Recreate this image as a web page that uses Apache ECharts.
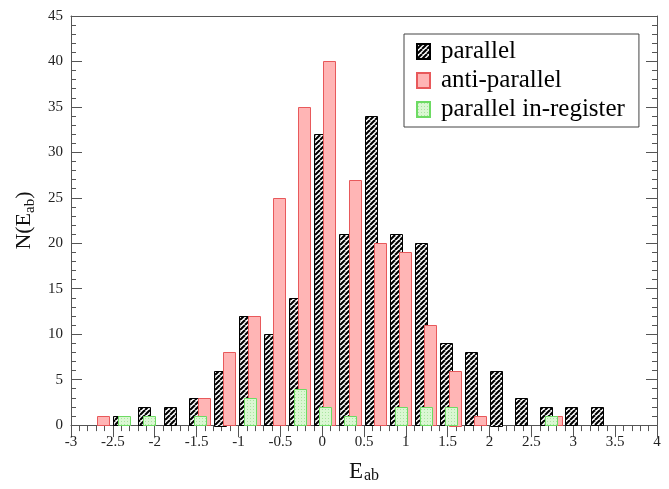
<!DOCTYPE html>
<html>
<head>
<meta charset="utf-8">
<script src="https://cdn.jsdelivr.net/npm/echarts@6/dist/echarts.min.js"></script>
<style>
  html, body { margin: 0; padding: 0; background: #fff; }
  #chart { width: 669px; height: 489px; }
</style>
</head>
<body>
<div id="chart"></div>
<script>
// bin centres (E_ab) and counts per strand arrangement
const bins = [-2.7, -2.4, -2.1, -1.8, -1.5, -1.2, -0.9, -0.6, -0.3, 0, 0.3, 0.6, 0.9, 1.2, 1.5, 1.8, 2.1, 2.4, 2.7, 3.0, 3.3];
const parallel = [0, 1, 2, 2, 3, 6, 12, 10, 14, 32, 21, 34, 21, 20, 9, 8, 6, 3, 2, 2, 2];
const antiParallel = [1, 0, 0, 0, 3, 8, 12, 25, 35, 40, 27, 20, 19, 11, 6, 1, 0, 0, 1, 0, 0];
const inRegister = [0, 1, 1, 0, 1, 0, 3, 0, 4, 2, 1, 0, 2, 2, 2, 0, 0, 0, 1, 0, 0];
const seriesNames = ['parallel', 'anti-parallel', 'parallel in-register'];

const serif = '"Liberation Serif", "DejaVu Serif", serif';
const axisColor = '#555';
const barWidth = 0.148;

function makePattern(size, draw) {
  const c = document.createElement('canvas');
  c.width = c.height = size;
  draw(c.getContext('2d'), size);
  return { image: c, repeat: 'repeat' };
}

const hatch = makePattern(5, (g, s) => {
  g.fillStyle = '#fff';
  g.fillRect(0, 0, s, s);
  g.strokeStyle = '#000';
  g.lineWidth = 2.1;
  for (const o of [-s, 0, s]) {
    g.beginPath();
    g.moveTo(o, s);
    g.lineTo(o + s, 0);
    g.stroke();
  }
});

const pinkFill = '#ffb5b5';

const dots = makePattern(3, (g, s) => {
  g.fillStyle = '#dbf7d3';
  g.fillRect(0, 0, s, s);
  g.fillStyle = '#a9e6a0';
  g.fillRect(1, 1, 1, 1);
});

function barRender(shift, stroke) {
  return (params, api) => {
    const v = api.value(1);
    if (!v) return null;
    const x = api.value(0) + shift;
    const tl = api.coord([x - barWidth / 2, v]);
    const br = api.coord([x + barWidth / 2, 0]);
    return {
      type: 'rect',
      shape: { x: Math.round(tl[0]) + 0.5, y: Math.round(tl[1]) + 0.5, width: Math.round(br[0] - tl[0]), height: Math.round(br[1] - tl[1]) },
      style: Object.assign(api.style(), { stroke: stroke, lineWidth: 1 })
    };
  };
}

function pairs(values) {
  return bins.map((b, i) => [b, values[i]]);
}

const chart = echarts.init(document.getElementById('chart'), null, { renderer: 'canvas' });

const tickLabel = { fontFamily: serif, fontSize: 15, color: '#222' };

chart.setOption({
  animation: false,
  backgroundColor: '#fff',
  grid: { left: 71, right: 12, top: 16, bottom: 61 },
  legend: {
    orient: 'vertical',
    left: 404,
    top: 34,
    padding: [5, 14, 5, 12],
    itemGap: 4,
    itemWidth: 13,
    itemHeight: 15,
    icon: 'rect',
    borderColor: '#444',
    borderWidth: 1,
    textStyle: { fontFamily: serif, fontSize: 25, color: '#000', padding: [0, 0, 0, 6] },
    data: seriesNames
  },
  xAxis: [
    {
      type: 'value',
      min: -3,
      max: 4,
      interval: 0.5,
      axisLine: { show: true, onZero: false, lineStyle: { color: axisColor } },
      axisTick: { show: true, inside: false, length: 12, lineStyle: { color: axisColor } },
      minorTick: { show: true, splitNumber: 5, length: 6, lineStyle: { color: axisColor } },
      splitLine: { show: false },
      axisLabel: Object.assign({ margin: 9 }, tickLabel),
      name: '{n|E}{s|ab}',
      nameLocation: 'middle',
      nameGap: 30,
      nameTextStyle: {
        rich: {
          n: { fontFamily: serif, fontSize: 23, color: '#111', lineHeight: 24, verticalAlign: 'top' },
          s: { fontFamily: serif, fontSize: 16, color: '#111', lineHeight: 16, padding: [14, 0, 0, 1], verticalAlign: 'bottom' }
        }
      }
    },
    {
      type: 'value',
      position: 'top',
      min: -3,
      max: 4,
      axisLine: { show: true, onZero: false, lineStyle: { color: axisColor } },
      axisTick: { show: false },
      axisLabel: { show: false },
      splitLine: { show: false }
    }
  ],
  yAxis: [
    {
      type: 'value',
      min: 0,
      max: 45,
      interval: 5,
      axisLine: { show: true, onZero: false, lineStyle: { color: axisColor } },
      axisTick: { show: true, inside: true, length: 11, lineStyle: { color: axisColor } },
      minorTick: { show: true, splitNumber: 5, length: 5, lineStyle: { color: axisColor } },
      splitLine: { show: false },
      axisLabel: Object.assign({ margin: 8 }, tickLabel),
      name: '{n|N(E}{s|ab}{n|)}',
      nameLocation: 'middle',
      nameGap: 28,
      nameTextStyle: {
        rich: {
          n: { fontFamily: serif, fontSize: 22, color: '#111', lineHeight: 24, verticalAlign: 'top' },
          s: { fontFamily: serif, fontSize: 15, color: '#111', lineHeight: 15, padding: [13, 0, 0, 0], verticalAlign: 'bottom' }
        }
      }
    },
    {
      type: 'value',
      position: 'right',
      min: 0,
      max: 45,
      interval: 5,
      axisLine: { show: true, onZero: false, lineStyle: { color: axisColor } },
      axisTick: { show: true, inside: true, length: 11, lineStyle: { color: axisColor } },
      minorTick: { show: true, splitNumber: 5, length: 5, lineStyle: { color: axisColor } },
      splitLine: { show: false },
      axisLabel: { show: false }
    }
  ],
  series: [
    {
      name: seriesNames[0],
      type: 'custom',
      renderItem: barRender(-0.02, '#000'),
      itemStyle: { color: hatch, borderColor: '#000', borderWidth: 1 },
      encode: { x: 0, y: 1 },
      data: pairs(parallel),
      z: 2
    },
    {
      name: seriesNames[1],
      type: 'custom',
      renderItem: barRender(0.09, '#e8595b'),
      itemStyle: { color: pinkFill, borderColor: '#e8595b', borderWidth: 1 },
      encode: { x: 0, y: 1 },
      data: pairs(antiParallel),
      z: 3
    },
    {
      name: seriesNames[2],
      type: 'custom',
      renderItem: barRender(0.04, '#6ddb63'),
      itemStyle: { color: dots, borderColor: '#6ddb63', borderWidth: 1 },
      encode: { x: 0, y: 1 },
      data: pairs(inRegister),
      z: 4
    }
  ]
});
</script>
</body>
</html>
